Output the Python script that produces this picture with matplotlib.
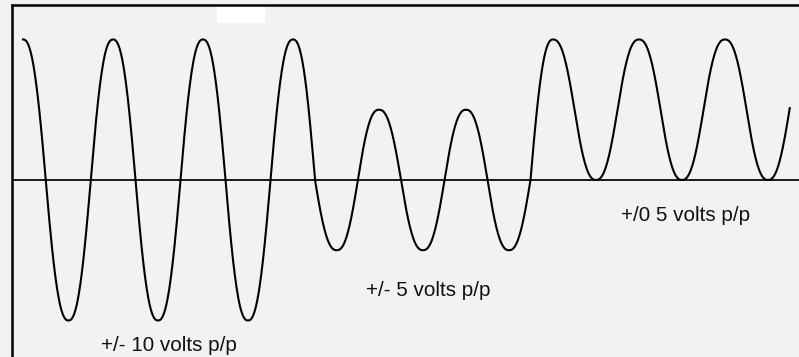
import numpy as np
import matplotlib
matplotlib.use("Agg")
import matplotlib.pyplot as plt
from matplotlib.patches import Rectangle
from matplotlib.lines import Line2D

# waveform key points: time (px-ish units), volts, kind
# 'e' = peak/trough (flat top), 'm' = zero crossing (steepest point)
t_keys = [23, 68.5, 113, 158, 203, 248, 293, 315, 336.7, 379, 423, 466, 509,
          530.5, 553, 596, 639, 682, 725, 768, 811]
v_keys = [10, -10, 10, -10, 10, -10, 10, 0, -5, 5, -5, 5, -5,
          0, 10, 0, 10, 0, 10, 0, 10]
kinds = ['e', 'e', 'e', 'e', 'e', 'e', 'e', 'm', 'e', 'e', 'e', 'e', 'e',
         'm', 'e', 'e', 'e', 'e', 'e', 'e', 'e']
t_end = 790

labels = ["+/- 10 volts p/p", "+/- 5 volts p/p", "+/0 5 volts p/p"]
label_t = [101, 366, 621]
label_v = [-12.17, -8.26, -2.92]

plt.rcParams['font.family'] = ['Liberation Sans', 'DejaVu Sans']

bg = '#f2f2f2'
fig = plt.figure(figsize=(7.99, 3.57), dpi=100, facecolor=bg)
ax = fig.add_axes([0, 0, 1, 1])
ax.set_facecolor(bg)
ax.set_xlim(0, 799)
ax.set_ylim(-12.6, 12.81)
ax.axis('off')

P = 1.2  # the drawn curve is a bit fuller than a pure sine


def quarter(u):
    # 1 at the peak (u=0) down to 0 at the crossing (u=1)
    return np.cos(np.pi / 2 * u ** P)


def piece(t0, v0, k0, t1, v1, k1, n=80):
    s = np.linspace(0, 1, n)
    t = t0 + (t1 - t0) * s
    if k0 == 'e' and k1 == 'e':
        mid = (v0 + v1) / 2
        v = np.where(s < 0.5,
                     mid + (v0 - mid) * quarter(np.clip(2 * s, 0, 1)),
                     mid + (v1 - mid) * quarter(np.clip(2 - 2 * s, 0, 1)))
    elif k0 == 'e':
        v = v1 + (v0 - v1) * quarter(s)
    else:
        v = v0 + (v1 - v0) * quarter(1 - s)
    return t, v


ts, vs = [], []
for i in range(len(t_keys) - 1):
    t, v = piece(t_keys[i], v_keys[i], kinds[i],
                 t_keys[i + 1], v_keys[i + 1], kinds[i + 1])
    ts.append(t)
    vs.append(v)
ts = np.concatenate(ts)
vs = np.concatenate(vs)
keep = ts <= t_end
ts, vs = ts[keep], vs[keep]

# zero line
ax.plot([13, 799], [0, 0], color='#1a1a1a', lw=1.4, solid_capstyle='butt')
ax.plot(ts, vs, color='black', lw=1.5)

for txt, x, y in zip(labels, label_t, label_v):
    ax.text(x, y, txt, fontsize=14.9, color='#111111', ha='left', va='baseline')

# frame (top and left only) and white blank box
W, H = 799, 357
fig.add_artist(Line2D([12 / W, 12 / W], [0, 1 - 4 / H], transform=fig.transFigure,
                      color='black', lw=1.8, solid_capstyle='butt'))
fig.add_artist(Line2D([11 / W, 1], [1 - 5 / H, 1 - 5 / H], transform=fig.transFigure,
                      color='black', lw=1.8, solid_capstyle='butt'))
fig.add_artist(Rectangle((217 / W, 1 - 22.7 / H), 48 / W, 16 / H,
                         transform=fig.transFigure, facecolor='white',
                         edgecolor='none'))

fig.savefig('out.png', dpi=100, facecolor=bg)
